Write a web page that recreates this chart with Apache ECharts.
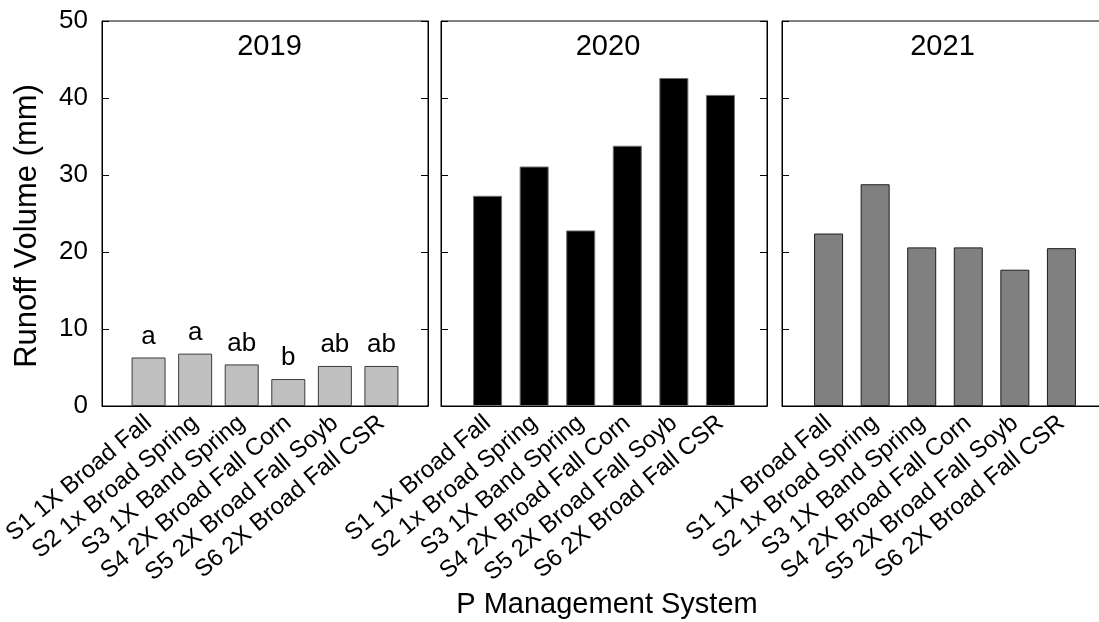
<!DOCTYPE html>
<html>
<head>
<meta charset="utf-8">
<script src="https://cdn.jsdelivr.net/npm/echarts@6/dist/echarts.min.js"></script>
<style>
  html, body { margin: 0; padding: 0; background: #fff; }
  #chart { width: 1099px; height: 622px; }
</style>
</head>
<body>
<div id="chart"></div>
<script>
// Runoff volume by P management system, one panel per year
const systems = [
  'S1 1X Broad Fall',
  'S2 1x Broad Spring',
  'S3 1X Band Spring',
  'S4 2X Broad Fall Corn',
  'S5 2X Broad Fall Soyb',
  'S6 2X Broad Fall CSR'
];
const years = ['2019', '2020', '2021'];
const runoff2019 = [6.3, 6.8, 5.4, 3.5, 5.2, 5.2];
const runoff2020 = [27.3, 31.1, 22.8, 33.8, 42.6, 40.4];
const runoff2021 = [22.4, 28.8, 20.6, 20.6, 17.7, 20.5];
const letters2019 = ['a', 'a', 'ab', 'b', 'ab', 'ab'];
const yTicks = [0, 10, 20, 30, 40, 50];

const FONT = 'Liberation Sans, Arial, sans-serif';
const panels = [
  { left: 102, width: 326, values: runoff2019, fill: '#c0c0c0', edge: '#3a3a3a', barWidth: 34, letters: letters2019 },
  { left: 441, width: 326, values: runoff2020, fill: '#000000', edge: '#6e6e6e', barWidth: 29 },
  { left: 782, width: 326, values: runoff2021, fill: '#808080', edge: '#1e1e1e', barWidth: 29 }
];
const titleX = [269.5, 608, 942.5];

const grids = [], xAxes = [], yAxes = [], series = [], graphics = [];
panels.forEach((p, i) => {
  grids.push({
    left: p.left, width: p.width, top: 21, height: 385,
    outerBoundsMode: 'none', containLabel: false,
    show: true, borderColor: '#000', borderWidth: 1, backgroundColor: 'transparent'
  });
  xAxes.push({
    type: 'value', gridIndex: i, min: 0, max: 7, interval: 1,
    axisLine: { show: true, lineStyle: { color: '#000', width: 1 } },
    axisTick: { show: false },
    splitLine: { show: false },
    axisLabel: {
      rotate: 40, margin: 14, fontSize: 24, fontFamily: FONT, color: '#000',
      showMinLabel: true, showMaxLabel: true, hideOverlap: false,
      formatter: v => systems[v - 1] || ''
    }
  });
  // left axis with value labels (first panel only)
  yAxes.push({
    type: 'value', gridIndex: i, position: 'left', min: 0, max: 50, interval: 10,
    axisLine: { show: true, lineStyle: { color: '#000', width: 1 } },
    axisTick: { show: true, inside: true, length: 7, lineStyle: { color: '#000' } },
    splitLine: { show: false },
    axisLabel: {
      show: i === 0, fontSize: 26, fontFamily: FONT, color: '#000', margin: 14,
      formatter: v => (yTicks.includes(v) ? String(v) : '')
    }
  });
  // mirrored ticks on the right edge
  yAxes.push({
    type: 'value', gridIndex: i, position: 'right', min: 0, max: 50, interval: 10,
    axisLine: { show: true, lineStyle: { color: '#000', width: 1 } },
    axisTick: { show: true, inside: true, length: 7, lineStyle: { color: '#000' } },
    splitLine: { show: false },
    axisLabel: { show: false }
  });
  series.push({
    type: 'bar', xAxisIndex: i, yAxisIndex: 2 * i,
    barWidth: p.barWidth,
    data: p.values.map((v, k) => [k + 1, v]),
    itemStyle: { color: p.fill, borderColor: p.edge, borderWidth: 1 },
    label: p.letters ? {
      show: true, position: 'top', distance: 8,
      fontSize: 26, fontFamily: FONT, color: '#000',
      formatter: params => p.letters[params.dataIndex]
    } : { show: false },
    silent: true, animation: false
  });
  graphics.push({
    type: 'text', x: titleX[i], y: 47,
    style: {
      text: years[i], fontSize: 29, fontFamily: FONT, fill: '#000',
      textAlign: 'center', textVerticalAlign: 'middle'
    }
  });
});

graphics.push(
  {
    type: 'text', x: 27, y: 226, rotation: Math.PI / 2,
    style: {
      text: 'Runoff Volume (mm)', fontSize: 31, fontFamily: FONT, fill: '#000',
      textAlign: 'center', textVerticalAlign: 'middle'
    }
  },
  {
    type: 'text', x: 607, y: 605,
    style: {
      text: 'P Management System', fontSize: 29, fontFamily: FONT, fill: '#000',
      textAlign: 'center', textVerticalAlign: 'middle'
    }
  }
);

const chart = echarts.init(document.getElementById('chart'), null, { renderer: 'canvas' });
chart.setOption({
  animation: false,
  backgroundColor: '#fff',
  grid: grids,
  xAxis: xAxes,
  yAxis: yAxes,
  series: series,
  graphic: graphics
});
</script>
</body>
</html>
